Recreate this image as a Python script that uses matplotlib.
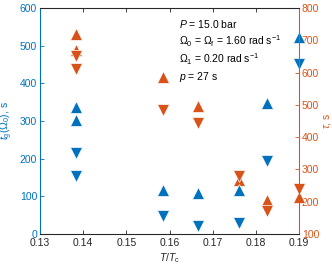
import matplotlib
matplotlib.use("Agg")
import matplotlib.pyplot as plt

plt.rcParams['font.family'] = ['Liberation Sans', 'DejaVu Sans']
plt.rcParams['mathtext.fontset'] = 'custom'
plt.rcParams['mathtext.rm'] = 'Liberation Sans'
plt.rcParams['mathtext.it'] = 'Liberation Sans:italic'
plt.rcParams['mathtext.bf'] = 'Liberation Sans:bold'

# Data (T/Tc, values)
T_tg_up = [0.1383, 0.1383, 0.1585, 0.1665, 0.1761, 0.1827, 0.1900]
tg_up = [337, 302, 117, 110, 118, 347, 523]
T_tg_dn = [0.1383, 0.1383, 0.1585, 0.1665, 0.1761, 0.1827, 0.1900]
tg_dn = [214, 155, 48, 22, 28, 194, 452]

T_tau_up = [0.1383, 0.1383, 0.1585, 0.1665, 0.1761, 0.1827, 0.1900]
tau_up = [720, 671, 587, 498, 267, 205, 215]
T_tau_dn = [0.1383, 0.1383, 0.1585, 0.1665, 0.1761, 0.1827, 0.1900]
tau_dn = [651, 612, 484, 445, 280, 170, 239]

xticks = [0.13, 0.14, 0.15, 0.16, 0.17, 0.18, 0.19]
yticks_left = [0, 100, 200, 300, 400, 500, 600]
yticks_right = [100, 200, 300, 400, 500, 600, 700, 800]

blue = '#0072BD'
orange = '#D95319'
fs = 7.5

fig = plt.figure(figsize=(3.32, 2.66), dpi=100)
ax = fig.add_axes([0.1205, 0.1203, 0.7801, 0.8496])
ax2 = ax.twinx()
ax.set_zorder(ax2.get_zorder() + 1)
ax.patch.set_visible(False)

ms = 8.3
kw = dict(linestyle='none', ms=ms, mec='white', mew=0.5, clip_on=False)
ax2.plot(T_tau_up, tau_up, marker='^', color=orange, **kw)
ax2.plot(T_tau_dn, tau_dn, marker='v', color=orange, **kw)
ax.plot(T_tg_up, tg_up, marker='^', color=blue, **kw)
ax.plot(T_tg_dn, tg_dn, marker='v', color=blue, **kw)

ax.set_xlim(0.13, 0.19)
ax.set_ylim(0, 600)
ax2.set_ylim(100, 800)
ax.set_xticks(xticks)
ax.set_xticklabels([f"{v:.2f}" for v in xticks])
ax.set_yticks(yticks_left)
ax2.set_yticks(yticks_right)

ax.tick_params(axis='x', direction='in', top=True, length=3, width=0.6, labelsize=fs, colors='#262626', pad=3)
ax.tick_params(axis='y', direction='in', length=3, width=0.6, labelsize=fs, colors=blue, pad=2)
ax2.tick_params(axis='y', direction='in', length=3, width=0.6, labelsize=fs, colors=orange, pad=2)

for a in (ax, ax2):
    for s in a.spines.values():
        s.set_linewidth(0.75)
    a.spines['top'].set_color('#262626')
    a.spines['bottom'].set_color('#262626')
    a.spines['left'].set_color(blue)
    a.spines['right'].set_color(orange)

ax.set_xlabel(r'$T$/$T_{\rm c}$', fontsize=fs, color='#262626', labelpad=2)
ax.set_ylabel(r'$t_{\rm g}(\Omega_0)$, s', fontsize=fs, color=blue)
ax.yaxis.set_label_coords(-0.095, 0.5)
ax2.set_ylabel(r'$\tau$, s', fontsize=fs, color=orange, labelpad=2)

lines = [r'$P$ = 15.0 bar',
         r'$\Omega_0$ = $\Omega_{\rm f}$ = 1.60 rad s$^{-1}$',
         r'$\Omega_1$ = 0.20 rad s$^{-1}$',
         r'$p$ = 27 s']
ys = [24, 41, 59, 77]
for txt, yp in zip(lines, ys):
    ax.text(179 / 332, 1 - yp / 266, txt, transform=fig.transFigure, fontsize=fs,
            color='black', va='center', ha='left')

fig.savefig('out.png', dpi=100)
